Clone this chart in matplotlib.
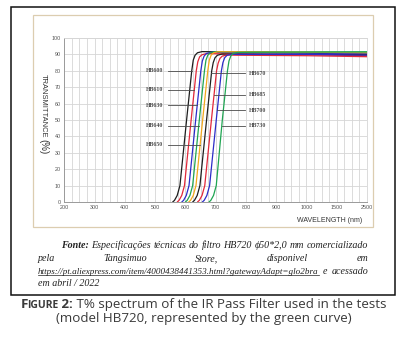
import numpy as np
import matplotlib.pyplot as plt
from matplotlib.patches import Rectangle
from matplotlib.lines import Line2D

W, H = 402, 344

# wavelength axis: 100 nm steps up to 1000, then 1500 and 2500 at equal spacing
wl_ticks = [200, 300, 400, 500, 600, 700, 800, 900, 1000, 1500, 2500]
tick_idx = np.arange(len(wl_ticks))

names = ["HB600", "HB610", "HB630", "HB640", "HB650",
         "HB670", "HB685", "HB700", "HB730"]
colors = ["#1e1e1e", "#e2283a", "#2c2cc8", "#1fa552", "#f2a81d",
          "#1e1e1e", "#e2283a", "#2c2cc8", "#1fa552"]

# transmittance curves, wavelength (nm) and T (%)
curve_wl = [
    [558, 564, 573, 582, 604, 621, 626, 632, 640, 655, 690, 1000, 2500],
    [573, 579, 588, 597, 619, 636, 641, 647, 655, 670, 705, 1000, 2500],
    [588, 594, 603, 612, 634, 651, 656, 662, 670, 685, 720, 1000, 2500],
    [600, 606, 615, 624, 646, 663, 668, 674, 682, 697, 732, 1000, 2500],
    [611, 617, 626, 635, 657, 674, 679, 685, 693, 708, 743, 1000, 2500],
    [624, 630, 639, 648, 670, 687, 692, 698, 706, 721, 756, 1000, 2500],
    [640, 646, 655, 664, 686, 703, 708, 714, 722, 737, 772, 1000, 2500],
    [656, 662, 671, 680, 702, 719, 724, 730, 738, 753, 788, 1000, 2500],
    [678, 684, 693, 702, 722, 739, 744, 750, 758, 773, 808, 1000, 2500],
]
curve_t = [
    [0, 1, 4, 10, 50, 80, 86.5, 89.5, 91.0, 91.7, 91.6, 91.0, 90.3],
    [0, 1, 4, 10, 50, 80, 85.5, 88.5, 89.8, 90.5, 90.4, 89.8, 89.2],
    [0, 1, 4, 10, 50, 80, 86.0, 89.0, 90.6, 91.3, 91.2, 90.8, 90.3],
    [0, 1, 4, 10, 50, 80, 86.5, 89.5, 91.0, 91.6, 91.6, 91.5, 91.5],
    [0, 1, 4, 10, 50, 80, 86.5, 89.5, 91.0, 91.6, 91.6, 91.3, 91.0],
    [0, 1, 4, 10, 50, 80, 85.0, 88.0, 89.5, 90.2, 90.2, 90.0, 89.8],
    [0, 1, 4, 10, 50, 80, 84.5, 87.5, 89.0, 89.6, 89.5, 89.2, 88.6],
    [0, 1, 4, 10, 50, 80, 85.0, 88.0, 89.5, 90.1, 90.0, 90.0, 89.6],
    [0, 1, 4, 10, 50, 80, 86.0, 89.0, 90.6, 91.2, 91.3, 91.4, 91.5],
]

# label heights (T %) and which side of the curves they sit on
label_t = [80, 68.5, 59, 46.5, 35, 78.5, 65.5, 56, 46.5]
label_left = [True] * 5 + [False] * 4


def fwd(x):
    return np.interp(x, wl_ticks, tick_idx)


def inv(x):
    return np.interp(x, tick_idx, wl_ticks)


def px(x):
    return x / W


def py(y):
    return 1 - y / H


fig = plt.figure(figsize=(W / 100, H / 100), dpi=100)
fig.patch.set_facecolor("white")

# frames around the chart block
fig.add_artist(Rectangle((px(11), py(295)), px(395) - px(11), py(7) - py(295),
                         transform=fig.transFigure, fill=False, ec="#111111", lw=1.1))
fig.add_artist(Rectangle((px(33), py(227)), px(373) - px(33), py(15) - py(227),
                         transform=fig.transFigure, fill=False, ec="#dccdb0", lw=0.9))

ax = fig.add_axes([px(64.3), py(202), px(367) - px(64.3), py(38) - py(202)])
ax.set_xscale("function", functions=(fwd, inv))
ax.set_xlim(200, 2500)
ax.set_ylim(0, 100)
ax.set_xticks(wl_ticks)
ax.set_xticklabels([str(v) for v in wl_ticks])
ax.set_xticks(inv(np.arange(0, 10.01, 0.25)), minor=True)
ax.set_yticks(np.arange(0, 101, 10))
ax.tick_params(axis="both", which="both", length=0, labelsize=3.9,
               labelcolor="#555555", pad=2.5)
for lab in ax.get_xticklabels() + ax.get_yticklabels():
    lab.set_family("Liberation Sans")
ax.grid(True, which="both", axis="x", color="#d6d6d6", lw=0.6)
ax.grid(True, which="major", axis="y", color="#d6d6d6", lw=0.6)
ax.set_axisbelow(True)
for side in ["top", "right"]:
    ax.spines[side].set_color("#d6d6d6")
    ax.spines[side].set_linewidth(0.6)
for side in ["left", "bottom"]:
    ax.spines[side].set_color("#9a9a9a")
    ax.spines[side].set_linewidth(0.7)

for wl, t, c in zip(curve_wl, curve_t, colors):
    ax.plot(wl, t, color=c, lw=0.9, solid_capstyle="round")

# leader lines and filter names
for name, wl, t, lt, left in zip(names, curve_wl, curve_t, label_t, label_left):
    xc = np.interp(lt, t[:9], wl[:9])
    if left:
        ax.plot([543, xc], [lt, lt], color="#4a4a4a", lw=0.6)
        ax.text(527, lt, name, ha="right", va="center", fontsize=4.2,
                family="Liberation Serif", weight="bold", color="#505050")
    else:
        ax.plot([xc, 797], [lt, lt], color="#4a4a4a", lw=0.6)
        ax.text(810, lt, name, ha="left", va="center", fontsize=4.2,
                family="Liberation Serif", weight="bold", color="#505050")

# axis titles
fig.text(px(43), py(74), "TRANSMITTANCE", rotation=270, ha="center", va="top",
         fontsize=5.4, family="Liberation Sans", color="#333333")
fig.text(px(43), py(139), "(%)", rotation=270, ha="center", va="top",
         fontsize=7, family="Liberation Sans", color="#333333")
fig.text(px(362), py(220), "WAVELENGTH (nm)", ha="right", va="center",
         fontsize=5, family="Liberation Sans", color="#333333")

fig.canvas.draw()
rend = fig.canvas.get_renderer()

serif = ["Liberation Serif", "DejaVu Serif"]


def place_words(words, y, x0, x1, styles=None, size=7.2):
    """Spread words from x0 to x1 (pixels), justified."""
    arts = []
    for i, w in enumerate(words):
        kw = dict(style="italic", family=serif, fontsize=size, color="#222222")
        if styles and styles[i]:
            kw.update(styles[i])
        arts.append(fig.text(0, py(y), w, ha="left", va="baseline", **kw))
    widths = [a.get_window_extent(rend).width for a in arts]
    gap = (x1 - x0 - sum(widths)) / max(len(words) - 1, 1)
    x = x0
    for a, wd in zip(arts, widths):
        a.set_x(px(x))
        x += wd + gap
    return arts, widths


line1 = ["Fonte:", "Especificações", "técnicas", "do", "filtro", "HB720",
         "ϕ50*2,0", "mm", "comercializado"]
place_words(line1, 248, 61, 368, styles=[{"weight": "bold"}] + [None] * 8)
place_words(["pela", "Tangsimuo", "Store,", "disponivel", "em"], 261, 38, 368)
url = "https://pt.aliexpress.com/item/4000438441353.html?gatewayAdapt=glo2bra"
arts, widths = place_words([url, "e", "acessado"], 273.5, 38, 368,
                           styles=[{"fontsize": 6.6}, None, None])
ux = arts[0].get_position()[0] * W
fig.add_artist(Line2D([px(ux), px(ux + widths[0])], [py(275), py(275)],
                      transform=fig.transFigure, color="#222222", lw=0.5))
fig.text(px(38), py(286), "em abril / 2022", ha="left", va="baseline",
         style="italic", family=serif, fontsize=7.2, color="#222222")

# caption, small caps label then plain text, centred
cap_color = "#3a3a3a"
cap_size = 9.6
pieces = [("F", cap_size, "bold"), ("IGURE", cap_size * 0.78, "bold"),
          (" 2:", cap_size, "bold"),
          (" T% spectrum of the IR Pass Filter used in the tests", cap_size, "normal")]
arts = []
for s, fs, wt in pieces:
    arts.append(fig.text(0, py(308), s, ha="left", va="baseline", fontsize=fs,
                         weight=wt, family="Open Sans", color=cap_color))
widths = [a.get_window_extent(rend).width for a in arts]
x = 204 - sum(widths) / 2
for i, (a, wd) in enumerate(zip(arts, widths)):
    a.set_x(px(x))
    x += wd - (1.0 if i == 0 else 0)
fig.text(px(204), py(322), "(model HB720, represented by the green curve)",
         ha="center", va="baseline", fontsize=cap_size, family="Open Sans",
         color=cap_color)

fig.savefig("out.png", dpi=100, facecolor="white")
